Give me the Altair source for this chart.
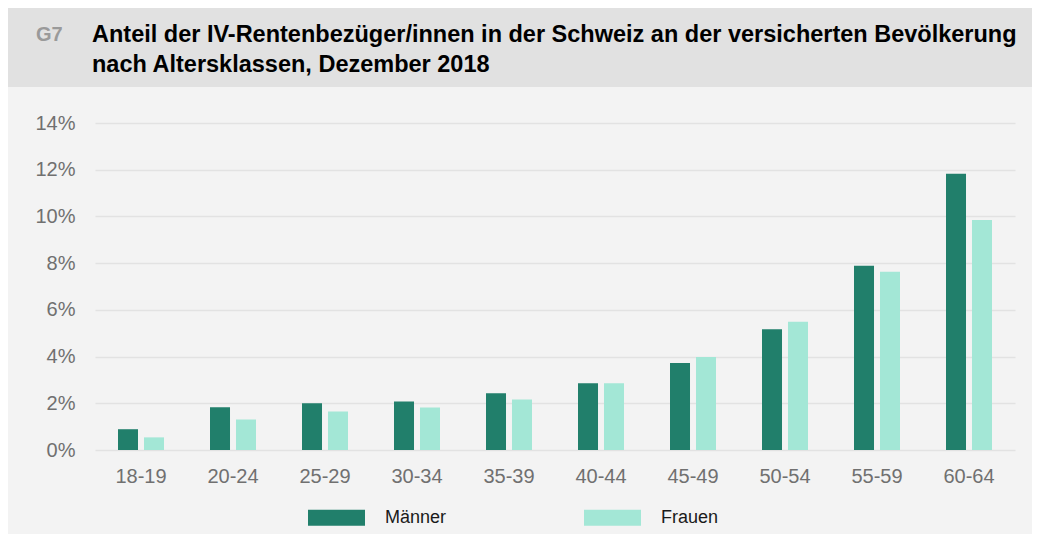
import altair as alt
import pandas as pd

categories = ["18-19", "20-24", "25-29", "30-34", "35-39", "40-44", "45-49", "50-54", "55-59", "60-64"]
maenner = [0.89, 1.83, 2.0, 2.08, 2.43, 2.86, 3.73, 5.17, 7.89, 11.83]
frauen = [0.54, 1.31, 1.65, 1.82, 2.16, 2.86, 3.98, 5.49, 7.63, 9.85]
series = ["Männer", "Frauen"]
colors = ["#217F6B", "#A3E7D6"]
y_ticks = [0, 2, 4, 6, 8, 10, 12, 14]
title_code = "G7"
title_lines = ["Anteil der IV-Rentenbezüger/innen in der Schweiz an der versicherten Bevölkerung",
               "nach Altersklassen, Dezember 2018"]

rows = []
for c, m, f in zip(categories, maenner, frauen):
    rows.append({"Alter": c, "Geschlecht": series[0], "Wert": m})
    rows.append({"Alter": c, "Geschlecht": series[1], "Wert": f})
df = pd.DataFrame(rows)

W, H = 920, 327
PAD_L, PAD_T, PAD_R, PAD_B = 87, 115, 17, 84

one = pd.DataFrame({"a": [0]})

band = alt.Chart(one).mark_rect(color="#E1E1E1").encode(
    x=alt.value(-PAD_L), x2=alt.value(W + PAD_R), y=alt.value(-PAD_T), y2=alt.value(-36)
)

code_txt = alt.Chart(one).mark_text(
    align="left", baseline="alphabetic", font="Liberation Sans", fontSize=20,
    fontWeight="bold", color="#9A9A9A"
).encode(x=alt.value(-59), y=alt.value(-82), text=alt.value(title_code))

line1 = alt.Chart(one).mark_text(
    align="left", baseline="alphabetic", font="Liberation Sans", fontSize=23.5,
    fontWeight="bold", color="#000000"
).encode(x=alt.value(-3), y=alt.value(-81.5), text=alt.value(title_lines[0]))

line2 = alt.Chart(one).mark_text(
    align="left", baseline="alphabetic", font="Liberation Sans", fontSize=23.5,
    fontWeight="bold", color="#000000"
).encode(x=alt.value(-3), y=alt.value(-50.7), text=alt.value(title_lines[1]))

bars = alt.Chart(df).mark_bar().encode(
    x=alt.X("Alter:N", sort=categories,
            scale=alt.Scale(paddingInner=0.5, paddingOuter=0.25),
            axis=alt.Axis(title=None, labelAngle=0, labelFontSize=20, labelColor="#707070",
                          labelFont="Liberation Sans", domain=False, ticks=False, labelPadding=16,
                          grid=False)),
    xOffset=alt.XOffset("Geschlecht:N", sort=series,
                        scale=alt.Scale(paddingInner=0.23, paddingOuter=0)),
    y=alt.Y("Wert:Q", scale=alt.Scale(domain=[0, 14], nice=False),
            axis=alt.Axis(title=None, values=y_ticks, labelExpr="datum.value + '%'",
                          labelFontSize=20, labelColor="#707070", labelFont="Liberation Sans",
                          domain=False, ticks=False, labelPadding=20,
                          gridColor="#E2E2E2", gridWidth=1.6)),
    color=alt.Color("Geschlecht:N", sort=series,
                    scale=alt.Scale(domain=series, range=colors),
                    legend=alt.Legend(title=None, orient="none", legendX=213, legendY=366,
                                      direction="horizontal",
                                      symbolType="M-1,-0.28H1V0.28H-1Z", symbolSize=3249,
                                      symbolStrokeWidth=0, labelFontSize=18,
                                      labelFont="Liberation Sans", labelColor="#1A1A1A",
                                      labelOffset=20, columnPadding=137, padding=0)),
)

chart = alt.layer(band, code_txt, line1, line2, bars).properties(
    width=W, height=H,
    autosize=alt.AutoSizeParams(type="none"),
    padding={"left": PAD_L, "top": PAD_T, "right": PAD_R, "bottom": PAD_B},
    background="#F3F3F3",
).configure_view(stroke=None)

chart.save("out.html", embed_options={"renderer": "svg", "actions": False})
